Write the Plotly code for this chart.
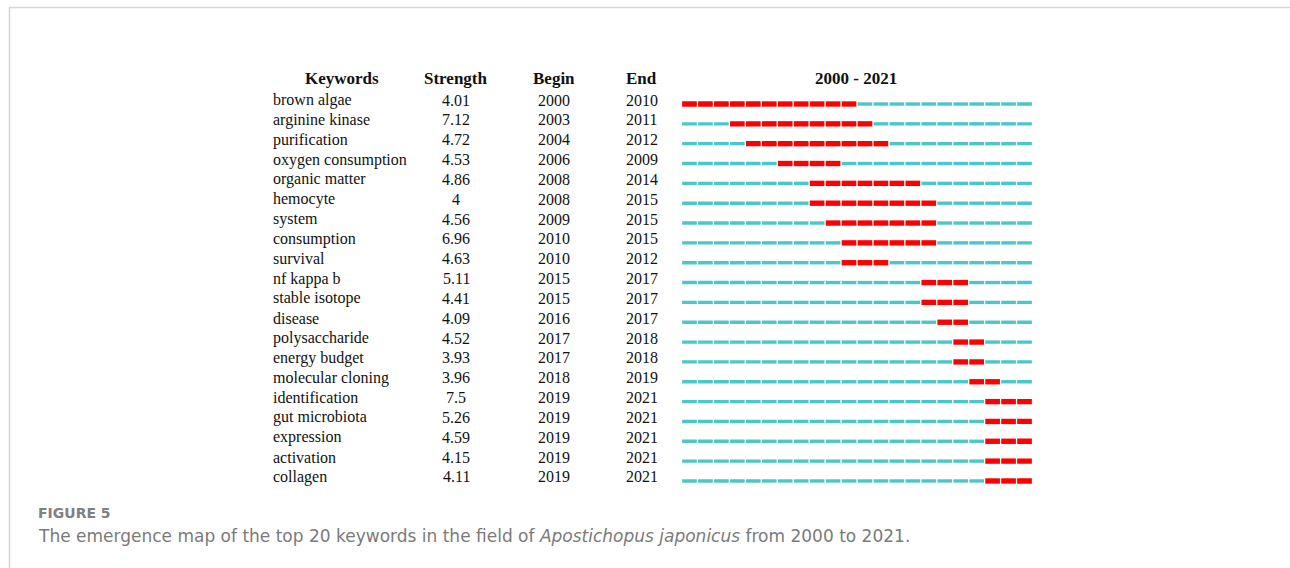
import plotly.graph_objects as go

# ---------------- data ----------------
keywords = ["brown algae", "arginine kinase", "purification", "oxygen consumption",
            "organic matter", "hemocyte", "system", "consumption", "survival",
            "nf kappa b", "stable isotope", "disease", "polysaccharide", "energy budget",
            "molecular cloning", "identification", "gut microbiota", "expression",
            "activation", "collagen"]
strength = ["4.01", "7.12", "4.72", "4.53", "4.86", "4", "4.56", "6.96", "4.63", "5.11",
            "4.41", "4.09", "4.52", "3.93", "3.96", "7.5", "5.26", "4.59", "4.15", "4.11"]
begin = [2000, 2003, 2004, 2006, 2008, 2008, 2009, 2010, 2010, 2015,
         2015, 2016, 2017, 2017, 2018, 2019, 2019, 2019, 2019, 2019]
end = [2010, 2011, 2012, 2009, 2014, 2015, 2015, 2015, 2012, 2017,
       2017, 2017, 2018, 2018, 2019, 2021, 2021, 2021, 2021, 2021]
first_year, last_year = 2000, 2021
headers = ["Keywords", "Strength", "Begin", "End"]
caption_label = "FIGURE 5"
caption_text = ("The emergence map of the top 20 keywords in the field of "
                "<i>Apostichopus japonicus</i> from 2000 to 2021.")

# ---------------- styling ----------------
W, H = 1290, 568
RED = "#ff0000"
CYAN = "#48c8c8"
SERIF = "Liberation Serif, Times New Roman, serif"
SANS = "DejaVu Sans, sans-serif"
row0_px, row_step_px = 104.0, 19.84
seg_start, seg_len = 0.04, 0.92

years = list(range(first_year, last_year + 1))
red_y, red_base, cyan_y, cyan_base = [], [], [], []
for i, (b, e) in enumerate(zip(begin, end)):
    for yr in years:
        if b <= yr <= e:
            red_y.append(i); red_base.append(yr + seg_start)
        else:
            cyan_y.append(i); cyan_base.append(yr + seg_start)

fig = go.Figure()
fig.add_trace(go.Bar(orientation="h", y=cyan_y, base=cyan_base,
                     x=[seg_len] * len(cyan_y), width=0.17,
                     marker=dict(color=CYAN, line=dict(width=0)),
                     hoverinfo="skip", showlegend=False))
fig.add_trace(go.Bar(orientation="h", y=red_y, base=red_base,
                     x=[seg_len] * len(red_y), width=0.27,
                     marker=dict(color=RED, line=dict(width=0)),
                     hoverinfo="skip", showlegend=False))

# y axis mapping: row index -> pixel
y_top = (0 - row0_px) / row_step_px
y_bot = (H - row0_px) / row_step_px

annotations = []
col_x = {"Strength": 456, "Begin": 554, "End": 641.5}
kw_left = 271
for i in range(len(keywords)):
    annotations.append(dict(x=kw_left / W, xref="paper", y=i, yref="y", yshift=4,
                            text=keywords[i], showarrow=False, xanchor="left",
                            font=dict(family=SERIF, size=16, color="#111")))
    for key, val in (("Strength", strength[i]), ("Begin", str(begin[i])), ("End", str(end[i]))):
        annotations.append(dict(x=col_x[key] / W, xref="paper", y=i, yref="y", yshift=4,
                                text=val, showarrow=False, xanchor="center",
                                font=dict(family=SERIF, size=16, color="#111")))

header_y = 1 - 79 / H
header_x = {"Keywords": 341.5, "Strength": 456, "Begin": 553.5, "End": 641.5}
for h in headers:
    annotations.append(dict(x=header_x[h] / W, xref="paper", y=header_y, yref="paper",
                            text=f"<b>{h}</b>", showarrow=False, xanchor="center",
                            yanchor="middle", font=dict(family=SERIF, size=17, color="#111")))
annotations.append(dict(x=856 / W, xref="paper", y=header_y, yref="paper",
                        text=f"<b>{first_year} - {last_year}</b>", showarrow=False,
                        xanchor="center", yanchor="middle",
                        font=dict(family=SERIF, size=17, color="#111")))

annotations.append(dict(x=36 / W, xref="paper", y=1 - 513 / H, yref="paper",
                        text=f"<b>{caption_label}</b>", showarrow=False, xanchor="left",
                        yanchor="middle",
                        font=dict(family=SANS, size=14, color="#808080")))
annotations.append(dict(x=36 / W, xref="paper", y=1 - 536 / H, yref="paper",
                        text=caption_text, showarrow=False, xanchor="left", yanchor="middle",
                        font=dict(family=SANS, size=17, color="#7a7a7a")))

shapes = [
    dict(type="line", xref="paper", yref="paper", x0=9 / W, x1=1, y0=1 - 7.5 / H, y1=1 - 7.5 / H,
         line=dict(color="#d6d6d6", width=1.5)),
    dict(type="line", xref="paper", yref="paper", x0=9.5 / W, x1=9.5 / W, y0=1 - 7 / H, y1=0,
         line=dict(color="#d6d6d6", width=1.5)),
]

fig.update_layout(
    width=W, height=H, margin=dict(l=0, r=0, t=0, b=0),
    paper_bgcolor="white", plot_bgcolor="white",
    barmode="overlay",
    xaxis=dict(domain=[681.5 / W, 1032.5 / W], range=[first_year, last_year + 1],
               visible=False, showgrid=False, zeroline=False, fixedrange=True),
    yaxis=dict(domain=[0, 1], range=[y_bot, y_top], visible=False,
               showgrid=False, zeroline=False, fixedrange=True),
    annotations=annotations, shapes=shapes,
)

fig.write_html("out.html", config={"displayModeBar": False},
               post_script="document.body.style.margin='0';document.body.style.padding='0';")
